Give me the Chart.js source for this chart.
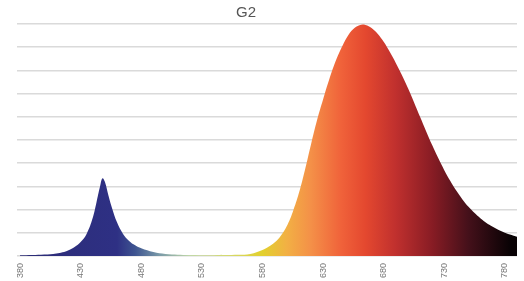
<!DOCTYPE html>
<html>
<head>
<meta charset="utf-8">
<script src="https://cdn.jsdelivr.net/npm/chart.js@4"></script>
<style>
body{margin:0;background:#fff;}
#wrap{position:relative;width:524px;height:281px;}
#title{position:absolute;top:3px;left:0;width:492px;text-align:center;font-family:"Liberation Sans",Arial,sans-serif;font-size:15px;color:#555;}
</style>
</head>
<body>
<div id="wrap">
<div id="title">G2</div>
<canvas id="c" width="524" height="281"></canvas>
</div>
<script>
/* DATA */
const wavelengths=[380,390,400,410,415,420,425,430,435,440,443,446,448,450,453,456,460,465,470,475,480,490,500,520,540,560,570,580,585,590,595,600,605,610,615,620,625,630,635,640,645,650,655,660,665,670,675,680,685,690,695,700,705,710,715,720,725,730,735,740,745,750,760,770,780,790];
const intensity=[0.3,0.4,0.6,1.1,1.6,2.5,3.9,6.0,9.6,16.5,23,30,33.5,32,26,20.5,14.5,9.5,6.5,4.6,3.3,1.7,0.9,0.45,0.35,0.5,0.9,2.6,4.0,5.8,8.6,12.8,19.0,27,37,48,58.5,67.5,76,83.5,89.5,94.5,97.8,99.5,99.6,98.3,95.8,92.3,88.0,83.2,78.0,72.4,66.3,60.0,53.8,47.8,42.2,37.0,32.3,28.1,24.4,21.2,16.2,12.6,10.0,8.3];
const tickLabels=[380,430,480,530,580,630,680,730,780];

/* spectrum colours */
const stopNm=[380,460,475,495,520,550,580,600,620,645,665,690,720,750,785];
const stopCol=["#2c2c76","#2e3084","#3e5490","#7a9aa8","#c0d8a8","#d4da70","#e2d02e","#f2b044","#f49048","#f0623a","#e4482f","#c0302e","#881c24","#44101a","#080204"];

function spectrum(ctx){
let ch=ctx.chart;
let a=ch.chartArea;
if(!a) return "#2c2c76";
let xs=ch.scales.x;
let g=ch.ctx.createLinearGradient(a.left,0,a.right,0);
let w=a.right-a.left;
for(let i=0;i<stopNm.length;i++){
let p=(xs.getPixelForValue(stopNm[i])-a.left)/w;
g.addColorStop(Math.min(1,Math.max(0,p)),stopCol[i]);
}
return g;
}

new Chart(document.getElementById("c"),{
type:"line",
data:{
datasets:[{
data:wavelengths.map((w,i)=>({x:w,y:intensity[i]})),
fill:"origin",
backgroundColor:spectrum,
borderWidth:0,
pointRadius:0,
tension:0.4
}]
},
options:{
responsive:false,
animation:false,
layout:{padding:{top:24,left:17,right:7,bottom:0}},
plugins:{legend:{display:false},tooltip:{enabled:false}},
scales:{
x:{
type:"linear",
min:377.5,
max:790,
afterBuildTicks:s=>{s.ticks=tickLabels.map(v=>({value:v}));},
afterFit:s=>{s.height=25;},
grid:{display:false,drawTicks:false},
border:{display:false},
ticks:{
minRotation:90,maxRotation:90,padding:7,
color:"#777",
font:{family:"Liberation Sans",size:9}
}
},
y:{
min:0,max:100,
ticks:{display:false,stepSize:10},
border:{display:false},
grid:{color:"#dadada",lineWidth:1.5,drawTicks:false}
}
}
}
});
</script>
</body>
</html>
